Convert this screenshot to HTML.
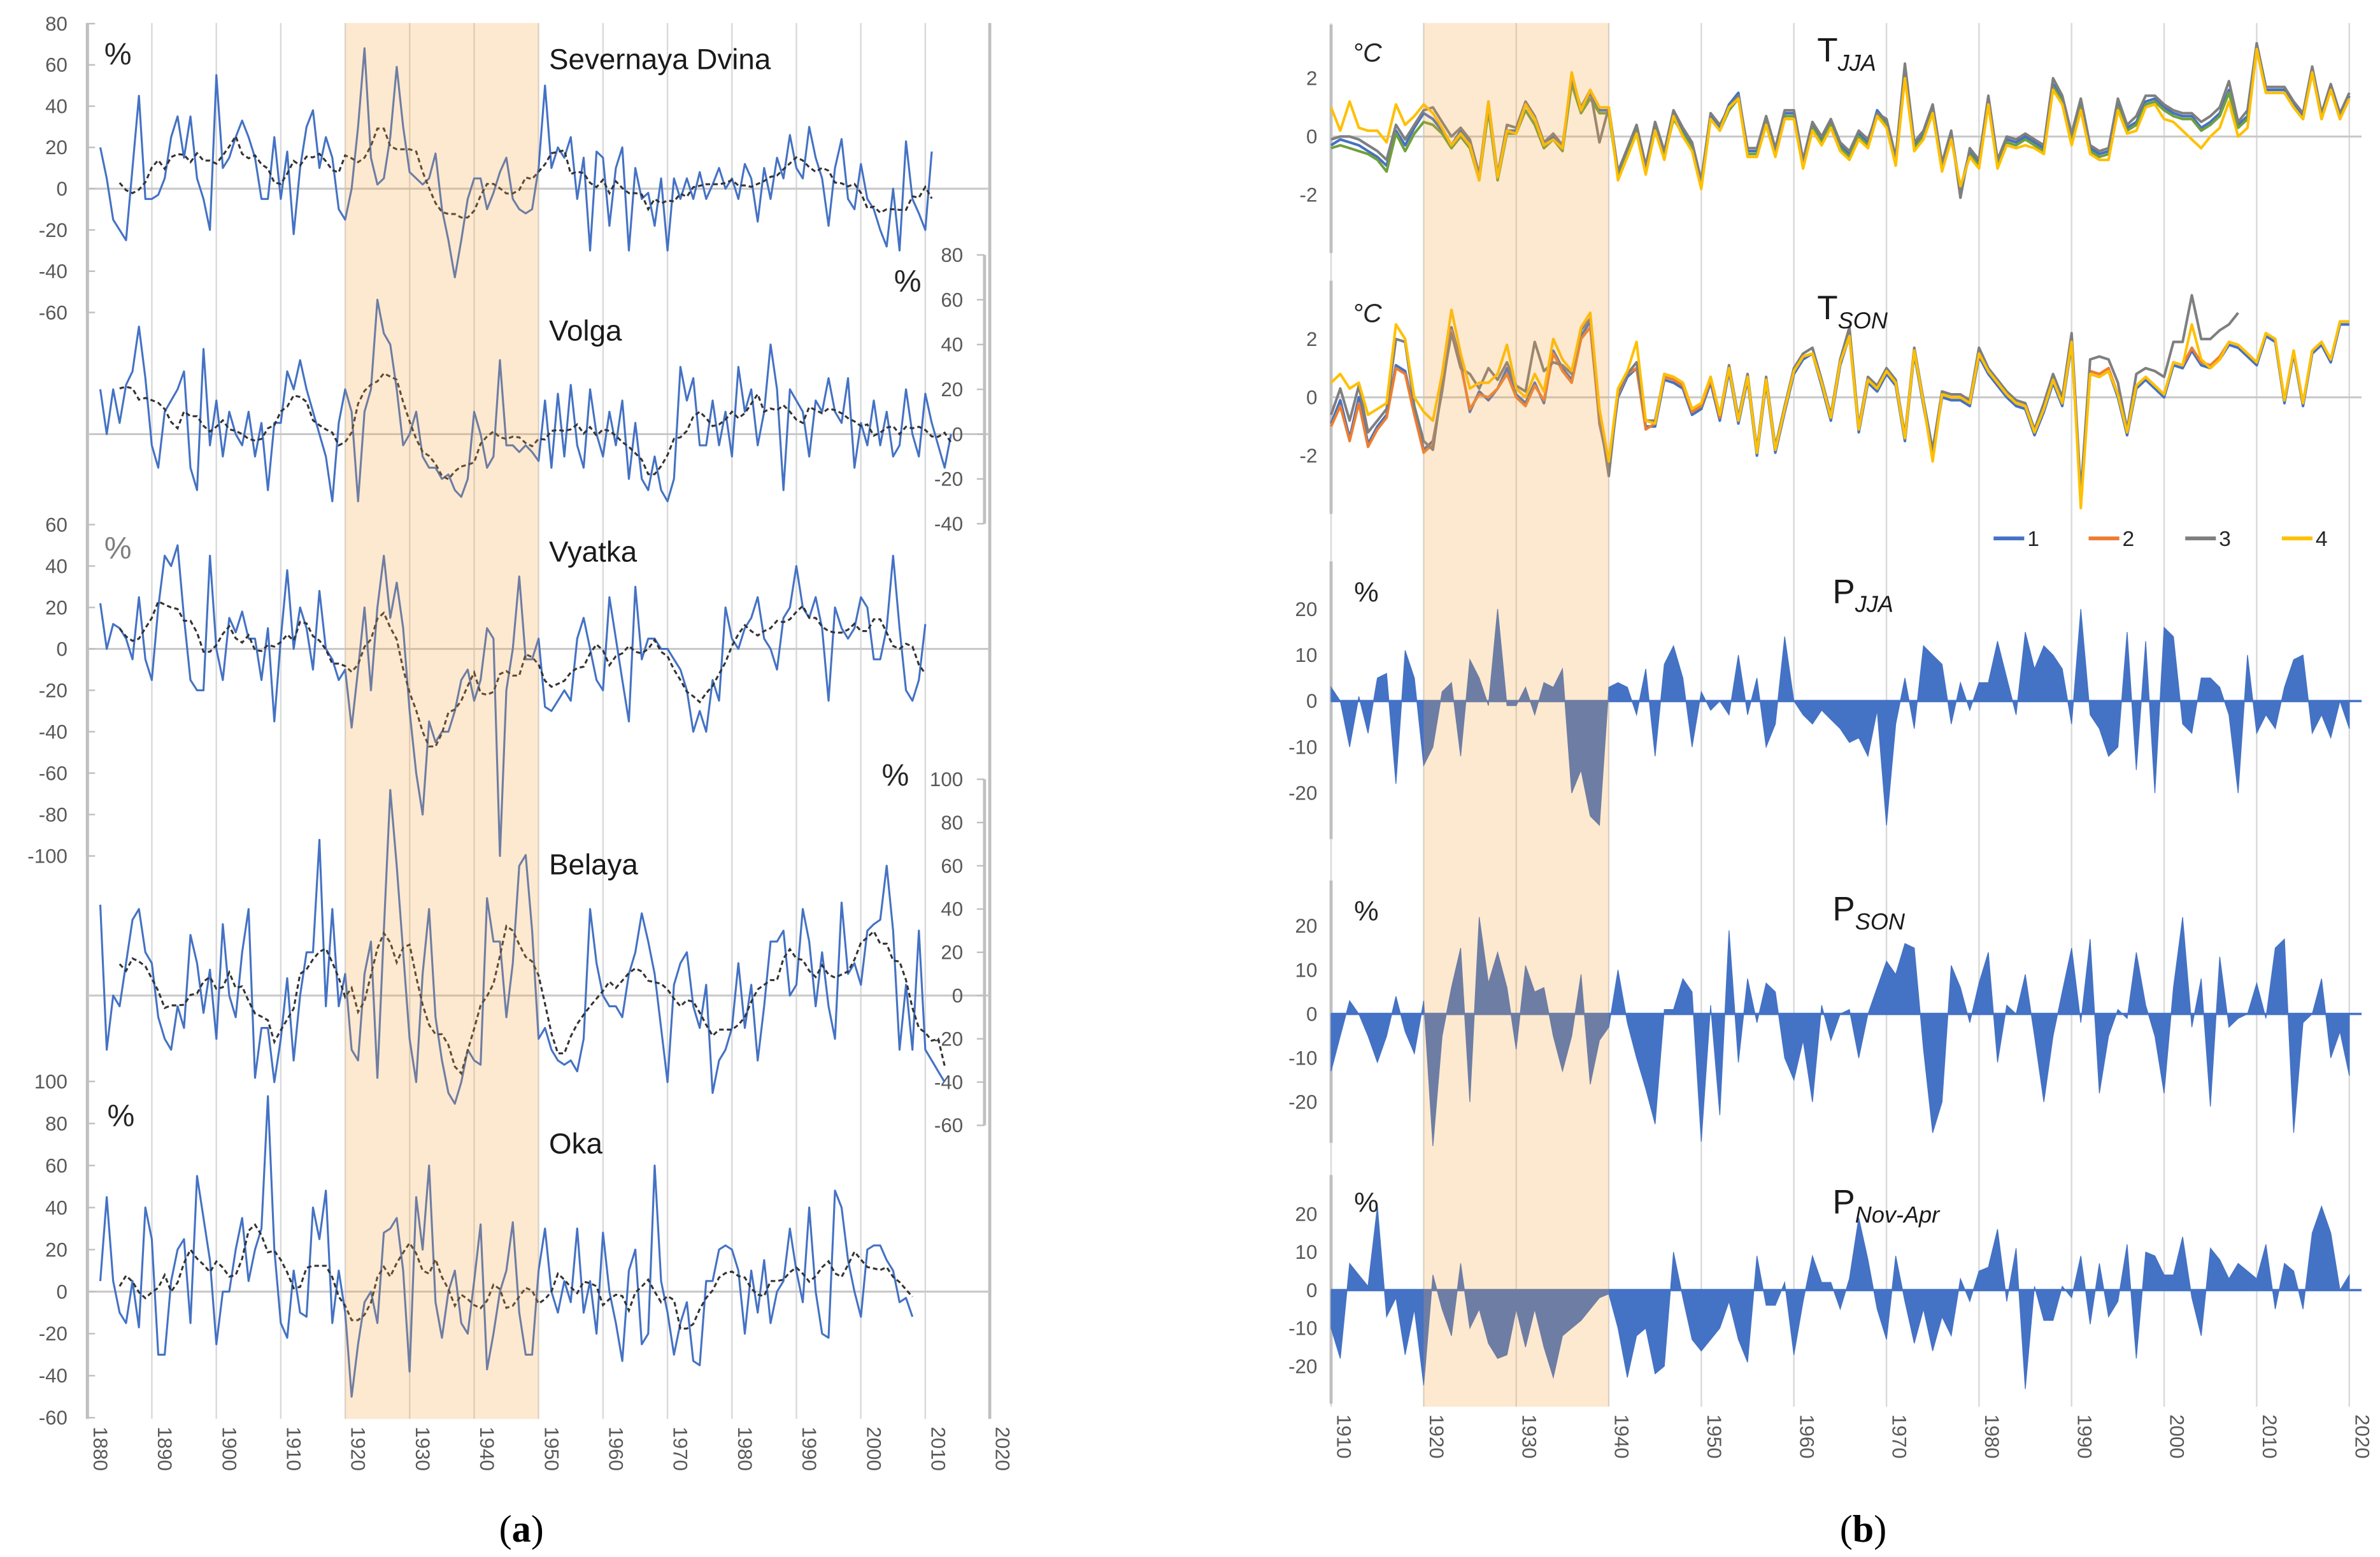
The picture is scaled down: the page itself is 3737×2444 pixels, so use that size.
<!DOCTYPE html>
<html><head><meta charset="utf-8"><title>River runoff and climate anomalies</title>
<style>
html,body{margin:0;padding:0;background:#fff;}
svg{display:block;font-family:"Liberation Sans",sans-serif;}
</style></head>
<body>
<svg id="fig" xmlns="http://www.w3.org/2000/svg" width="3737" height="2444" viewBox="0 0 1552 1015" preserveAspectRatio="none">
<g id="gL"></g>
<g id="gR"></g>
<text x="340" y="1005" font-family="Liberation Serif,serif" font-size="25" text-anchor="middle">(<tspan font-weight="bold">a</tspan>)</text>
<text x="1215" y="1005" font-family="Liberation Serif,serif" font-size="25" text-anchor="middle">(<tspan font-weight="bold">b</tspan>)</text>
</svg>
<script>
// ---------- LEFT PANEL DATA (runoff anomalies, %) ----------
const dvinaStart = 1882;
const dvina = [20,5,-15,-20,-25,10,45,-5,-5,-3,5,25,35,15,35,5,-5,-20,55,10,15,25,33,25,15,-5,-5,25,-5,18,-22,10,30,38,10,25,15,-10,-15,0,30,68,15,2,5,25,59,30,8,5,2,5,17,-10,-25,-43,-25,-5,5,5,-10,-2,8,15,-5,-10,-12,-10,10,50,10,20,15,25,-5,15,-30,18,15,-18,10,20,-30,10,-5,-2,-18,5,-30,5,-5,5,-5,8,-5,2,10,0,5,-5,12,5,-16,10,-5,15,5,26,10,5,30,15,5,-18,10,24,-5,-10,12,-5,-10,-20,-28,0,-30,23,-5,-12,-20,18];
const volgaStart = 1882;
const volga = [20,0,20,5,22,28,48,25,-5,-15,10,15,20,28,-15,-25,38,-5,15,-10,10,0,-5,10,-10,5,-25,5,5,28,20,33,20,10,0,-10,-30,5,20,10,-30,10,20,60,45,40,20,-5,0,10,-10,-15,-15,-20,-18,-25,-28,-20,10,0,-15,-10,33,-5,-5,-8,-5,-8,-12,15,-15,18,-10,22,-5,-15,20,0,-10,10,-5,15,-20,5,-20,-25,-10,-25,-30,-20,30,15,25,-5,-5,15,-5,10,-10,30,10,20,-5,10,40,20,-25,20,15,10,-10,15,10,25,10,5,25,-15,5,-5,15,-5,10,-10,-5,20,0,-10,18,5,-5,-15,0];
const vyatkaStart = 1882;
const vyatka = [22,0,12,10,5,-5,25,-5,-15,20,45,40,50,15,-15,-20,-20,45,0,-15,15,8,18,5,5,-15,10,-35,5,38,0,20,10,-10,28,0,-5,-15,-10,-38,-10,20,-20,20,45,15,32,10,-30,-60,-80,-35,-45,-40,-40,-30,-15,-10,-25,-15,10,5,-100,-20,0,35,-5,-5,5,-28,-30,-25,-20,-25,5,15,0,-15,-20,25,5,-15,-35,30,-5,5,5,0,0,-5,-10,-20,-40,-30,-40,-15,-25,20,5,0,10,15,25,5,0,-10,15,20,40,20,15,25,10,-25,20,10,5,10,25,20,-5,-5,10,45,10,-20,-25,-15,12];
const belayaStart = 1882;
const belaya = [42,-25,0,-5,15,35,40,20,15,-10,-20,-25,-5,-15,28,15,-8,12,-20,33,0,-10,20,40,-38,-15,-15,-40,-20,8,-30,0,20,20,72,-5,40,-5,10,-25,-30,10,25,-38,30,95,60,20,-20,-40,10,40,-10,-30,-45,-50,-40,-25,-30,-32,45,25,25,-10,15,60,65,30,-20,-15,-25,-30,-32,-30,-35,-20,40,15,0,-5,-5,-10,10,20,38,25,10,-15,-40,5,15,20,-5,-15,5,-45,-30,-25,-15,15,-15,5,-30,-5,25,25,30,0,5,40,25,-5,20,-5,-20,43,10,15,5,30,33,35,60,30,-25,5,-25,30,-25,-30,-35,-40];
const okaStart = 1882;
const oka = [5,45,5,-10,-15,5,-17,40,25,-30,-30,5,20,25,-15,55,35,15,-25,0,0,20,35,5,20,30,93,20,-15,-22,10,-10,-12,40,25,48,-15,10,-10,-50,-25,-5,0,-15,28,30,35,10,-38,45,20,60,-5,-22,0,10,-15,-20,5,32,-37,-20,0,10,33,-10,-30,-30,10,30,0,-10,5,-5,30,-10,5,-20,28,0,-15,-33,10,20,-25,-20,60,5,-10,-30,-15,-5,-33,-35,5,5,20,22,20,10,-20,10,-10,15,-15,0,5,30,10,-5,40,0,-20,-22,48,40,15,0,-12,20,22,22,15,10,-5,-3,-12];
const leftYearTicks = [1880,1890,1900,1910,1920,1930,1940,1950,1960,1970,1980,1990,2000,2010,2020];
const dvinaTicks = [80,60,40,20,0,-20,-40,-60];
const volgaTicks = [80,60,40,20,0,-20,-40];
const vyatkaTicks = [60,40,20,0,-20,-40,-60,-80,-100];
const belayaTicks = [100,80,60,40,20,0,-20,-40,-60];
const okaTicks = [100,80,60,40,20,0,-20,-40,-60];

// ---------- RIGHT PANEL DATA ----------
const rStart = 1910;
const tjja1 = [-0.3,-0.1,-0.2,-0.3,-0.5,-0.7,-1.0,0.2,-0.3,0.3, 0.8,0.6,0.2,-0.3,0.2,-0.2,-1.4,1.1,-1.4,0.2, 0.2,1.1,0.6,-0.3,0,-0.4,1.9,0.9,1.5,0.9, 0.9,-1.3,-0.5,0.3,-1.1,0.4,-0.6,0.8,0.2,-0.3, -1.6,0.7,0.3,1.1,1.5,-0.5,-0.5,0.6,-0.5,0.8, 0.8,-0.9,0.4,-0.1,0.5,-0.3,-0.6,0.1,-0.2,0.9, 0.5,-0.8,2.2,-0.3,0.1,1.0,-1.0,0.1,-1.8,-0.5, -0.9,1.3,-0.9,-0.1,-0.2,0,-0.2,-0.4,1.8,1.3, 0.0,1.1,-0.4,-0.6,-0.5,1.1,0.3,0.5,1.2,1.3, 1.0,0.8,0.7,0.7,0.3,0.5,0.8,1.6,0.4,0.7, 3.1,1.6,1.6,1.6,1.1,0.7,2.3,0.7,1.7,0.7,1.4];
const tjja2 = [-0.4,-0.3,-0.4,-0.5,-0.6,-0.8,-1.2,0.1,-0.5,0.1, 0.5,0.4,0.1,-0.4,0.0,-0.4,-1.5,0.9,-1.5,0.1, 0.1,0.9,0.4,-0.4,-0.1,-0.5,1.8,0.8,1.3,0.8, 0.8,-1.4,-0.6,0.2,-1.2,0.3,-0.7,0.6,0.1,-0.4, -1.6,0.6,0.2,0.9,1.3,-0.6,-0.6,0.5,-0.6,0.7, 0.7,-1.0,0.3,-0.2,0.4,-0.4,-0.7,0.0,-0.3,0.8, 0.4,-0.9,2.1,-0.4,0.0,0.9,-1.1,0.0,-1.9,-0.6, -1.0,1.2,-1.0,-0.2,-0.3,-0.1,-0.3,-0.5,1.7,1.2, -0.1,1.0,-0.5,-0.7,-0.6,1.0,0.2,0.4,1.1,1.2, 0.9,0.7,0.6,0.6,0.2,0.4,0.7,1.5,0.3,0.6, 3.0,1.5,1.5,1.5,1.0,0.6,2.2,0.6,1.6,0.6,1.3];
const tjja3 = [-0.1,0.0,0.0,-0.1,-0.3,-0.5,-0.8,0.4,-0.1,0.4, 0.9,1.0,0.5,0.0,0.3,-0.1,-1.3,1.2,-1.3,0.4, 0.3,1.2,0.7,-0.2,0.1,-0.3,2.0,1.0,1.6,-0.2, 1.0,-1.2,-0.4,0.4,-1.0,0.5,-0.5,0.9,0.3,-0.2, -1.5,0.8,0.4,1.0,1.4,-0.4,-0.4,0.7,-0.4,0.9, 0.9,-0.8,0.5,0.0,0.6,-0.2,-0.5,0.2,-0.1,0.8, 0.6,-0.7,2.5,-0.2,0.2,1.1,-0.9,0.2,-2.1,-0.4, -0.8,1.4,-0.8,0.0,-0.1,0.1,-0.1,-0.3,2.0,1.4, 0.1,1.3,-0.3,-0.5,-0.4,1.3,0.4,0.7,1.4,1.4, 1.1,0.9,0.8,0.8,0.5,0.7,1.0,1.9,0.5,0.9, 3.2,1.7,1.7,1.7,1.2,0.8,2.4,0.8,1.8,0.8,1.5];
const tjja4 = [1.0,0.2,1.2,0.3,0.2,0.2,-0.2,1.1,0.4,0.7, 1.1,0.8,0.3,-0.3,0.1,-0.3,-1.5,1.2,-1.4,0.2, 0.1,1.1,0.6,-0.3,-0.1,-0.4,2.2,0.9,1.6,1.0, 1.0,-1.5,-0.7,0.1,-1.3,0.2,-0.8,0.7,0.0,-0.5, -1.8,0.6,0.2,1.0,1.3,-0.7,-0.7,0.4,-0.7,0.6, 0.6,-1.1,0.2,-0.3,0.3,-0.5,-0.8,-0.1,-0.4,0.7, 0.3,-1.0,2.0,-0.5,-0.1,0.8,-1.2,-0.1,-1.7,-0.7, -1.1,1.1,-1.1,-0.3,-0.4,-0.3,-0.4,-0.6,1.6,1.1, -0.3,0.9,-0.6,-0.8,-0.8,0.9,0.1,0.2,1.0,1.1, 0.6,0.5,0.2,-0.1,-0.4,0.0,0.3,1.2,0.0,0.3, 3.0,1.5,1.5,1.5,1.0,0.6,2.2,0.6,1.6,0.6,1.3];
const tson1 = [-0.9,-0.1,-1.4,0,-1.6,-1.0,-0.6,1.1,0.9,-0.5, -1.8,-1.5,0.2,2.4,1.2,-0.5,0.2,-0.1,0.3,1.0, 0.1,-0.2,0.5,-0.2,1.6,1.0,0.6,2.1,2.6,-0.9, -2.4,0,0.7,1.0,-1.0,-1.0,0.6,0.5,0.3,-0.6, -0.4,0.5,-0.8,0.9,-0.9,0.6,-2.0,0.5,-1.9,-0.5, 0.8,1.3,1.5,0.4,-0.8,1.1,2.1,-1.2,0.5,0.2, 0.8,0.4,-1.5,1.5,-0.3,-2.0,0,-0.1,-0.1,-0.3, 1.4,0.8,0.4,0,-0.3,-0.4,-1.3,-0.5,0.5,-0.3, 1.8,-3.5,0.8,0.7,0.9,0,-1.3,0.3,0.6,0.3, 0,1.1,1.0,1.6,1.1,1.0,1.3,1.8,1.7,1.4, 1.1,2.1,1.9,-0.2,1.5,-0.3,1.5,1.8,1.2,2.5,2.5];
const tson2 = [-1.0,-0.3,-1.5,-0.2,-1.7,-1.1,-0.7,1.0,0.8,-0.6, -1.9,-1.6,0.3,2.3,1.1,-0.4,0.1,0.0,0.3,0.8, 0.0,-0.3,0.4,-0.1,1.5,0.9,0.5,2.0,2.4,-0.8, -2.5,0.1,0.8,1.0,-1.1,-0.9,0.7,0.6,0.4,-0.5, -0.3,0.6,-0.7,1.0,-0.8,0.7,-1.9,0.6,-1.8,-0.4, 0.9,1.4,1.5,0.5,-0.7,1.2,2.2,-1.1,0.6,0.3, 0.9,0.5,-1.4,1.6,-0.2,-1.9,0.1,0.0,0.0,-0.2, 1.5,0.9,0.5,0.1,-0.2,-0.3,-1.2,-0.4,0.6,-0.2, 1.9,-3.3,0.9,0.8,1.0,0.1,-1.2,0.4,0.7,0.4, 0.1,1.2,1.1,1.7,1.2,1.1,1.4,1.9,1.8,1.5, 1.2,2.2,2.0,-0.1,1.6,-0.2,1.6,1.9,1.3,2.6,2.6];
const tson3 = [-0.6,0.3,-0.8,0.4,-1.2,-0.8,-0.4,2.0,1.9,-0.3, -1.5,-1.8,0.4,2.2,1.0,0.8,0.3,1.0,0.6,1.2, 0.4,0.2,1.9,0.9,1.2,1.1,0.8,2.3,2.7,-0.6, -2.7,0.2,0.8,1.2,-0.8,-0.8,0.8,0.7,0.5,-0.4, -0.2,0.7,-0.6,1.1,-0.7,0.8,-1.8,0.7,-1.7,-0.3, 1.0,1.5,1.7,0.6,-0.6,1.3,2.4,-1.0,0.7,0.4, 1.0,0.6,-1.3,1.7,-0.1,-1.8,0.2,0.1,0.1,-0.1, 1.7,1.0,0.6,0.2,-0.1,-0.2,-1.1,-0.2,0.8,0.0, 2.2,-3.3,1.3,1.4,1.3,0.5,-1.1,0.8,1.0,0.9, 0.7,1.9,1.9,3.5,2.0,2.0,2.3,2.5,2.9];
const tson4 = [0.5,0.8,0.3,0.5,-0.6,-0.4,-0.2,2.5,2.0,0.0, -0.5,-0.8,0.8,3.0,1.5,0.3,0.5,0.5,0.8,1.8, 0.3,0.0,0.8,0.2,2.0,1.3,0.9,2.4,2.9,-0.4, -2.2,0.3,0.9,1.9,-0.8,-0.9,0.8,0.7,0.5,-0.4, -0.2,0.7,-0.6,1.0,-0.8,0.7,-1.9,0.6,-1.8,-0.4, 0.9,1.4,1.5,0.5,-0.7,1.2,2.1,-1.1,0.6,0.3, 0.9,0.5,-1.4,1.6,-0.2,-2.2,0.1,0.0,0.0,-0.2, 1.5,0.9,0.5,0.1,-0.2,-0.3,-1.2,-0.4,0.6,-0.2, 1.9,-3.8,0.8,0.7,0.9,0.1,-1.2,0.4,0.7,0.4, 0.1,1.2,1.1,2.5,1.3,1.0,1.3,1.9,1.8,1.5, 1.2,2.2,2.0,-0.1,1.6,-0.2,1.6,1.9,1.3,2.6,2.6];
const pjja = [3,0,-10,1,-7,5,6,-18,11,5, -14,-10,2,4,-12,9,5,-1,20,-1, -1,3,-3,4,3,7,-20,-15,-25,-27, 3,4,3,-3,7,-12,8,12,5,-10, 2,-2,0,-3,10,-3,5,-10,-5,14, 0,-3,-5,-2,-4,-6,-9,-8,-12,-2, -27,-5,5,-6,12,10,8,-5,4,-2, 4,4,13,5,-3,15,7,12,10,7, -5,20,-3,-6,-12,-10,15,-15,13,-20, 16,14,-5,-7,5,5,3,-3,-20,10, -7,-3,-6,3,9,10,-7,-3,-8,0,-6];
const pson = [-13,-5,3,0,-5,-11,-5,4,-4,-9, 3,-30,-5,6,15,-20,22,7,14,6, -8,11,5,6,-5,-13,-5,9,-16,-6, -3,10,-2,-10,-17,-25,1,1,8,5, -29,2,-23,19,-11,8,-2,7,5,-10, -15,-6,-20,2,-6,0,1,-10,0,6, 12,9,16,15,-8,-27,-20,11,6,-2, 7,14,-11,2,0,9,-5,-20,-5,5, 15,-2,17,-18,-5,1,-1,14,2,-5, -18,6,22,-3,8,-21,13,-3,-1,0, 7,-1,15,17,-27,-2,0,8,-10,-4,-14];
const pnovapr = [-10,-18,7,4,1,22,-7,-2,-17,-5, -25,4,-5,-12,7,-10,-5,-14,-18,-17, -5,-15,-5,-15,-23,-12,-10,-8,-5,-2, -1,-10,-23,-12,-10,-22,-20,10,-2,-13, -16,-13,-10,-3,-13,-19,9,-4,-4,2, -17,-3,9,2,2,-5,3,19,8,-5, -13,9,-3,-14,-5,-16,-7,-12,3,-3, 5,6,16,-3,11,-26,1,-8,-8,1, -2,9,-9,7,-7,-3,12,-18,10,9, 4,4,14,-2,-12,11,8,3,7,5, 3,12,-5,7,5,-5,15,22,15,0,4];
const rightYearTicks = [1910,1920,1930,1940,1950,1960,1970,1980,1990,2000,2010,2020];
const tTicks = [2,0,-2];
const pTicks = [20,10,0,-10,-20];
const legendLabels = ['1','2','3','4'];

const NS = 'http://www.w3.org/2000/svg';
function mk(parent, tag, attrs){ const e=document.createElementNS(NS,tag); for(const k in attrs) e.setAttribute(k,attrs[k]); parent.appendChild(e); return e; }
const gL = document.getElementById('gL');
const gR = document.getElementById('gR');
const GRID = '#d9d9d9', AX = '#bfbfbf', TXT = '#595959';

// ---------- LEFT PANEL ----------
const xL = y => 57 + (y - 1880) * 4.203;
const leftGrid = mk(gL,'g',{});


leftYearTicks.forEach(yr=>{
  const l = mk(leftGrid,'line',{x1:xL(yr),x2:xL(yr),y1:15,y2:925,stroke:(yr===1880||yr===2020)?AX:GRID,'stroke-width':(yr===1880||yr===2020)?2:1});
  
  
  const t = mk(gL,'text',{transform:`translate(${xL(yr)+4},930) rotate(90)`,'font-size':13,fill:TXT});
  t.textContent = yr;
  
  
});

function smooth(arr, half){
  return arr.map((v,i)=>{ let s=0,n=0; for(let j=i-half;j<=i+half;j++){ if(j>=0&&j<arr.length){s+=arr[j];n++;} } return s/n; });
}

const leftPanels = [
  {key:'severnaya-dvina', title:'Severnaya Dvina', data:dvina, start:dvinaStart, zero:123, k:1.345, ticks:dvinaTicks, side:'left', ty:45, pct:[68,42,'#262626']},
  {key:'volga', title:'Volga', data:volga, start:volgaStart, zero:283, k:1.46, ticks:volgaTicks, side:'right', ty:222, pct:[583,190,'#262626']},
  {key:'vyatka', title:'Vyatka', data:vyatka, start:vyatkaStart, zero:423, k:1.35, ticks:vyatkaTicks, side:'left', ty:366, pct:[68,364,'#7f7f7f']},
  {key:'belaya', title:'Belaya', data:belaya, start:belayaStart, zero:649, k:1.41, ticks:belayaTicks, side:'right', ty:570, pct:[575,512,'#262626']},
  {key:'oka', title:'Oka', data:oka, start:okaStart, zero:842, k:1.37, ticks:okaTicks, side:'left', ty:752, pct:[70,734,'#262626']}
];
leftPanels.forEach(p=>{
  const g = mk(gL,'g',{});
  
  
  const yv = v => p.zero - v * p.k;
  const z = mk(g,'line',{x1:57,x2:645,y1:p.zero,y2:p.zero,stroke:'#c9c9c9','stroke-width':1.3});
  
  
  const top = yv(p.ticks[0]), bot = yv(p.ticks[p.ticks.length-1]);
  const ax = p.side==='left' ? 57 : 642;
  const sp = mk(g,'line',{x1:ax,x2:ax,y1:top,y2:bot,stroke:AX,'stroke-width':2});
  
  
  p.ticks.forEach(tv=>{
    const tx = p.side==='left' ? 44 : 628;
    const t = mk(g,'text',{x:tx,y:yv(tv)+4.5,'font-size':13,'text-anchor':'end',fill:TXT});
    t.textContent = tv;
    
    
    const tk = mk(g,'line',{x1:ax-(p.side==='left'?0:5),x2:ax+(p.side==='left'?5:0),y1:yv(tv),y2:yv(tv),stroke:AX,'stroke-width':1});
    
    
  });
  const pts = p.data.map((v,i)=>xL(p.start+i).toFixed(1)+','+yv(v).toFixed(1)).join(' ');
  const ln = mk(g,'polyline',{points:pts,fill:'none',stroke:'#4472c4','stroke-width':1.3,'stroke-linejoin':'round'});
  
  
  const sm = smooth(p.data,3);
  const spts = sm.map((v,i)=>[i,v]).filter(a=>a[0]>=3).map(a=>xL(p.start+a[0]).toFixed(1)+','+yv(a[1]).toFixed(1)).join(' ');
  const sl = mk(g,'polyline',{points:spts,fill:'none',stroke:'#333','stroke-width':1.3,'stroke-dasharray':'3,2'});
  
  
  const tt = mk(g,'text',{x:358,y:p.ty,'font-size':19,fill:'#1a1a1a'});
  tt.textContent = p.title;
  
  
  const pc = mk(g,'text',{x:p.pct[0],y:p.pct[1],'font-size':20,fill:p.pct[2]});
  pc.textContent = '%';
  
  
});
const shadeL = mk(gL,'rect',{x:xL(1920),y:15,width:xL(1950)-xL(1920),height:910,fill:'rgb(246,163,59)','fill-opacity':0.24});



// ---------- RIGHT PANEL ----------
const xR = y => 868 + (y - 1910) * 6.036;
rightYearTicks.forEach(yr=>{
  const l = mk(gR,'line',{x1:xR(yr),x2:xR(yr),y1:15,y2:917,stroke:GRID,'stroke-width':1});
  
  
  const t = mk(gR,'text',{transform:`translate(${xR(yr)+4},922) rotate(90)`,'font-size':13,fill:TXT});
  t.textContent = yr;
  
  
});

const tPanels = [
  {key:'t-jja', sub:'JJA', zero:89, k:19, top:16, bot:165, series:[tjja1,tjja2,tjja3,tjja4], colors:['#4472c4','#70a03c','#7f7f7f','#ffc000'], ty:40, uy:40},
  {key:'t-son', sub:'SON', zero:259, k:19, top:183, bot:335, series:[tson1,tson2,tson3,tson4], colors:['#4472c4','#ed7d31','#7f7f7f','#ffc000'], ty:208, uy:210}
];
tPanels.forEach(p=>{
  const g = mk(gR,'g',{});
  
  
  const yv = v => p.zero - v*p.k;
  const sp = mk(g,'line',{x1:868,x2:868,y1:p.top,y2:p.bot,stroke:AX,'stroke-width':2});
  
  
  const z = mk(g,'line',{x1:868,x2:1540,y1:p.zero,y2:p.zero,stroke:'#c9c9c9','stroke-width':1.3});
  
  
  tTicks.forEach(tv=>{
    const t = mk(g,'text',{x:859,y:yv(tv)+4.5,'font-size':13,'text-anchor':'end',fill:TXT});
    t.textContent = tv;
    
    
  });
  p.series.forEach((s,si)=>{
    const pts = s.map((v,i)=>xR(rStart+i).toFixed(1)+','+yv(v).toFixed(1)).join(' ');
    const ln = mk(g,'polyline',{points:pts,fill:'none',stroke:p.colors[si],'stroke-width':1.7,'stroke-linejoin':'round'});
    
    
  });
  const tt = mk(g,'text',{x:1185,y:p.ty,'font-size':22,fill:'#1a1a1a'});
  tt.innerHTML = 'T<tspan font-size="15" font-style="italic" dy="6">'+p.sub+'</tspan>';
  
  
  const u = mk(g,'text',{x:882,y:p.uy,'font-size':17,'font-style':'italic',fill:'#262626'});
  u.textContent = '°C';
  
  
});

// legend
const lg = mk(gR,'g',{});


const legColors = ['#4472c4','#ed7d31','#7f7f7f','#ffc000'];
const legX = [1300,1362,1425,1488];
legendLabels.forEach((lab,i)=>{
  const l = mk(lg,'line',{x1:legX[i],x2:legX[i]+20,y1:351,y2:351,stroke:legColors[i],'stroke-width':2.5});
  
  
  const t = mk(lg,'text',{x:legX[i]+22,y:356,'font-size':14,fill:'#262626'});
  t.textContent = lab;
  
  
});

const pPanels = [
  {key:'p-jja', sub:'JJA', data:pjja, zero:457, k:3.0, top:366, bot:547, ty:393, uy:392},
  {key:'p-son', sub:'SON', data:pson, zero:661, k:2.87, top:574, bot:745, ty:600, uy:600},
  {key:'p-nov-apr', sub:'Nov-Apr', data:pnovapr, zero:841, k:2.48, top:766, bot:915, ty:791, uy:790}
];
pPanels.forEach(p=>{
  const g = mk(gR,'g',{});
  
  
  const yv = v => p.zero - v*p.k;
  const sp = mk(g,'line',{x1:868,x2:868,y1:p.top,y2:p.bot,stroke:AX,'stroke-width':2});
  
  
  pTicks.forEach(tv=>{
    const t = mk(g,'text',{x:859,y:yv(tv)+4.5,'font-size':13,'text-anchor':'end',fill:TXT});
    t.textContent = tv;
    
    
  });
  const n = p.data.length;
  let pts = xR(rStart).toFixed(1)+','+p.zero+' ';
  pts += p.data.map((v,i)=>xR(rStart+i).toFixed(1)+','+yv(v).toFixed(1)).join(' ');
  pts += ' '+xR(rStart+n-1).toFixed(1)+','+p.zero;
  const ar = mk(g,'polygon',{points:pts,fill:'#4472c4',stroke:'#4472c4','stroke-width':0.5});
  
  
  const z = mk(g,'line',{x1:868,x2:1540,y1:p.zero,y2:p.zero,stroke:'#4472c4','stroke-width':1.5});
  
  
  const tt = mk(g,'text',{x:1195,y:p.ty,'font-size':22,fill:'#1a1a1a'});
  tt.innerHTML = 'P<tspan font-size="15" font-style="italic" dy="6">'+p.sub+'</tspan>';
  
  
  const u = mk(g,'text',{x:883,y:p.uy,'font-size':18,fill:'#262626'});
  u.textContent = '%';
  
  
});
const shadeR = mk(gR,'rect',{x:xR(1920),y:15,width:xR(1940)-xR(1920),height:902,fill:'rgb(246,163,59)','fill-opacity':0.24});


</script>
</body></html>
